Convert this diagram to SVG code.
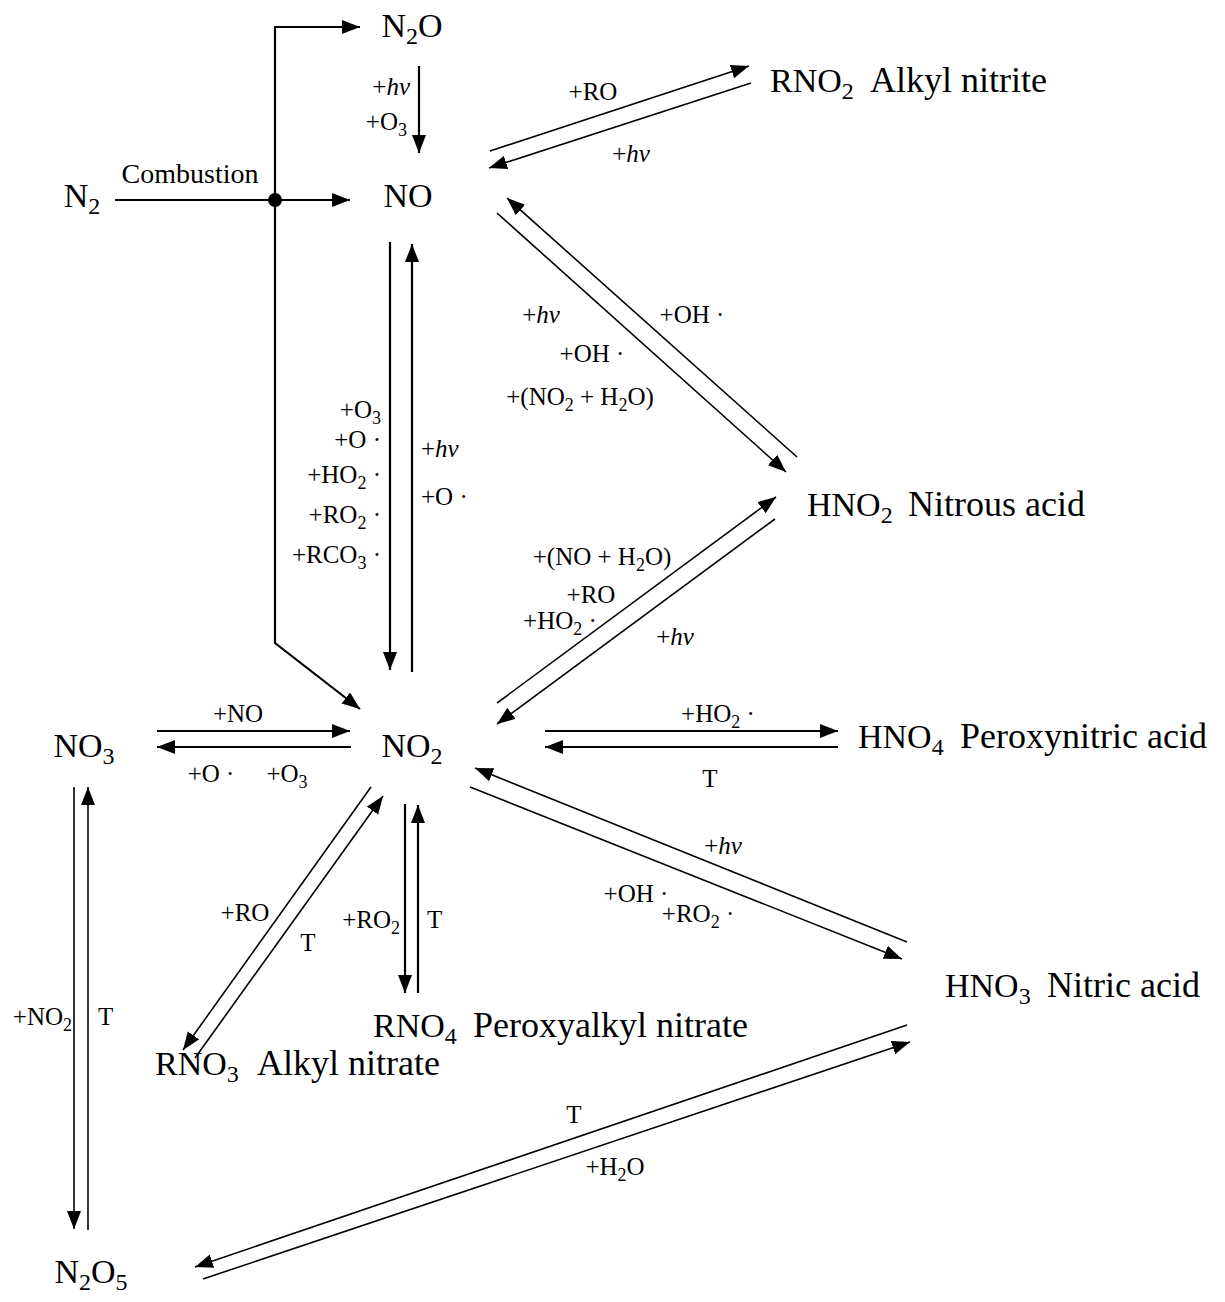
<svg xmlns="http://www.w3.org/2000/svg" width="1225" height="1302" viewBox="0 0 1225 1302">
<defs>
<marker id="ah" markerUnits="userSpaceOnUse" markerWidth="19" markerHeight="15" refX="18" refY="7" orient="auto">
<path d="M0,0 L18,7 L0,14 z" fill="#000"/>
</marker>
<style>
text{font-family:"Liberation Serif","Times New Roman",serif;fill:#000}
.f{font-size:34px}
.t{font-size:36px}
.l{font-size:25px}
.c{font-size:28px}
.sb{font-size:24px}
.ss{font-size:18px}
.m{text-anchor:middle}
.e{text-anchor:end}
.i{font-style:italic}
.k{fill:none;stroke:#000;stroke-width:2.2;marker-end:url(#ah)}
.n{fill:none;stroke:#000;stroke-width:1.6;marker-end:url(#ah)}
</style>
</defs>
<rect width="1225" height="1302" fill="#fff"/>

<g id="connectors">
<path class="k" d="M115 200 H350"/>
<path class="k" d="M275 200 V27 H360"/>
<path class="k" d="M275 200 V643 L360 709"/>
<circle cx="275" cy="200" r="7" fill="#000"/>
<path class="k" d="M419 66 V153"/>
<path class="k" d="M390 242 V670"/>
<path class="k" d="M412 672 V244"/>
<path class="n" d="M490 151 L749 66"/>
<path class="n" d="M751 83 L489 168"/>
<path class="n" d="M797 457 L507 198"/>
<path class="n" d="M497 213 L786 472"/>
<path class="n" d="M497 703 L776 497"/>
<path class="n" d="M775 519 L497 724"/>
<path class="k" d="M545 731 H838"/>
<path class="k" d="M838 747 H545"/>
<path class="k" d="M157 731 H350"/>
<path class="k" d="M351 747 H157"/>
<path class="n" d="M371 787 L183 1050"/>
<path class="n" d="M195 1058 L383 796"/>
<path class="k" d="M405 804 V993"/>
<path class="k" d="M418 993 V805"/>
<path class="n" d="M907 942 L475 768"/>
<path class="n" d="M470 787 L902 959"/>
<path class="n" d="M74 787 V1229"/>
<path class="n" d="M88 1230 V787"/>
<path class="n" d="M907 1025 L195 1267"/>
<path class="n" d="M203 1279 L910 1042"/>
</g>

<g id="edge-labels">
<text class="c m" x="190" y="183">Combustion</text>
<text class="l e" x="410" y="95">+<tspan class="i">hv</tspan></text>
<text class="l e" x="407" y="130">+O<tspan class="ss" dy="6">3</tspan></text>
<text class="l m" x="593" y="100">+RO</text>
<text class="l m" x="631" y="162">+<tspan class="i">hv</tspan></text>
<text class="l e" x="381" y="418">+O<tspan class="ss" dy="6">3</tspan></text>
<text class="l e" x="381" y="448">+O ·</text>
<text class="l e" x="381" y="483">+HO<tspan class="ss" dy="6">2</tspan><tspan dy="-6"> ·</tspan></text>
<text class="l e" x="381" y="523">+RO<tspan class="ss" dy="6">2</tspan><tspan dy="-6"> ·</tspan></text>
<text class="l e" x="381" y="563">+RCO<tspan class="ss" dy="6">3</tspan><tspan dy="-6"> ·</tspan></text>
<text class="l" x="421" y="457">+<tspan class="i">hv</tspan></text>
<text class="l" x="421" y="505">+O ·</text>
<text class="l m" x="541" y="323">+<tspan class="i">hv</tspan></text>
<text class="l m" x="692" y="323">+OH ·</text>
<text class="l m" x="592" y="362">+OH ·</text>
<text class="l m" x="580" y="405">+(NO<tspan class="ss" dy="6">2</tspan><tspan dy="-6"> + H</tspan><tspan class="ss" dy="6">2</tspan><tspan dy="-6">O)</tspan></text>
<text class="l m" x="602" y="565">+(NO + H<tspan class="ss" dy="6">2</tspan><tspan dy="-6">O)</tspan></text>
<text class="l m" x="591" y="603">+RO</text>
<text class="l m" x="560" y="629">+HO<tspan class="ss" dy="6">2</tspan><tspan dy="-6"> ·</tspan></text>
<text class="l m" x="675" y="645">+<tspan class="i">hv</tspan></text>
<text class="l m" x="718" y="722">+HO<tspan class="ss" dy="6">2</tspan><tspan dy="-6"> ·</tspan></text>
<text class="l m" x="710" y="787">T</text>
<text class="l m" x="238" y="722">+NO</text>
<text class="l m" x="211" y="782">+O ·</text>
<text class="l m" x="287" y="782">+O<tspan class="ss" dy="6">3</tspan></text>
<text class="l m" x="245" y="921">+RO</text>
<text class="l m" x="308" y="951">T</text>
<text class="l e" x="400" y="928">+RO<tspan class="ss" dy="6">2</tspan></text>
<text class="l" x="427" y="928">T</text>
<text class="l m" x="723" y="854">+<tspan class="i">hv</tspan></text>
<text class="l m" x="636" y="902">+OH ·</text>
<text class="l m" x="698" y="922">+RO<tspan class="ss" dy="6">2</tspan><tspan dy="-6"> ·</tspan></text>
<text class="l e" x="72" y="1025">+NO<tspan class="ss" dy="6">2</tspan></text>
<text class="l" x="98" y="1025">T</text>
<text class="l m" x="574" y="1123">T</text>
<text class="l m" x="615" y="1175">+H<tspan class="ss" dy="6">2</tspan><tspan dy="-6">O</tspan></text>
</g>

<g id="node-N2O"><text class="f m" x="412" y="37">N<tspan class="sb" dy="7">2</tspan><tspan dy="-7">O</tspan></text></g>
<g id="node-N2"><text class="f m" x="82" y="207">N<tspan class="sb" dy="7">2</tspan></text></g>
<g id="node-NO"><text class="f m" x="408" y="207">NO</text></g>
<g id="node-NO2"><text class="f m" x="412" y="757">NO<tspan class="sb" dy="7">2</tspan></text></g>
<g id="node-NO3"><text class="f m" x="84" y="757">NO<tspan class="sb" dy="7">3</tspan></text></g>
<g id="node-N2O5"><text class="f m" x="91" y="1283">N<tspan class="sb" dy="7">2</tspan><tspan dy="-7">O</tspan><tspan class="sb" dy="7">5</tspan></text></g>
<g id="node-RNO2"><text class="f" x="770" y="92">RNO<tspan class="sb" dy="7">2</tspan><tspan class="t" x="870" y="92">Alkyl nitrite</tspan></text></g>
<g id="node-HNO2"><text class="f" x="807" y="516">HNO<tspan class="sb" dy="7">2</tspan><tspan class="t" x="908" y="516">Nitrous acid</tspan></text></g>
<g id="node-HNO4"><text class="f" x="858" y="748">HNO<tspan class="sb" dy="7">4</tspan><tspan class="t" x="960" y="748">Peroxynitric acid</tspan></text></g>
<g id="node-HNO3"><text class="f" x="945" y="997">HNO<tspan class="sb" dy="7">3</tspan><tspan class="t" x="1047" y="997">Nitric acid</tspan></text></g>
<g id="node-RNO4"><text class="f" x="373" y="1037">RNO<tspan class="sb" dy="7">4</tspan><tspan class="t" x="473" y="1037">Peroxyalkyl nitrate</tspan></text></g>
<g id="node-RNO3"><text class="f" x="155" y="1075">RNO<tspan class="sb" dy="7">3</tspan><tspan class="t" x="257" y="1075">Alkyl nitrate</tspan></text></g>
</svg>
